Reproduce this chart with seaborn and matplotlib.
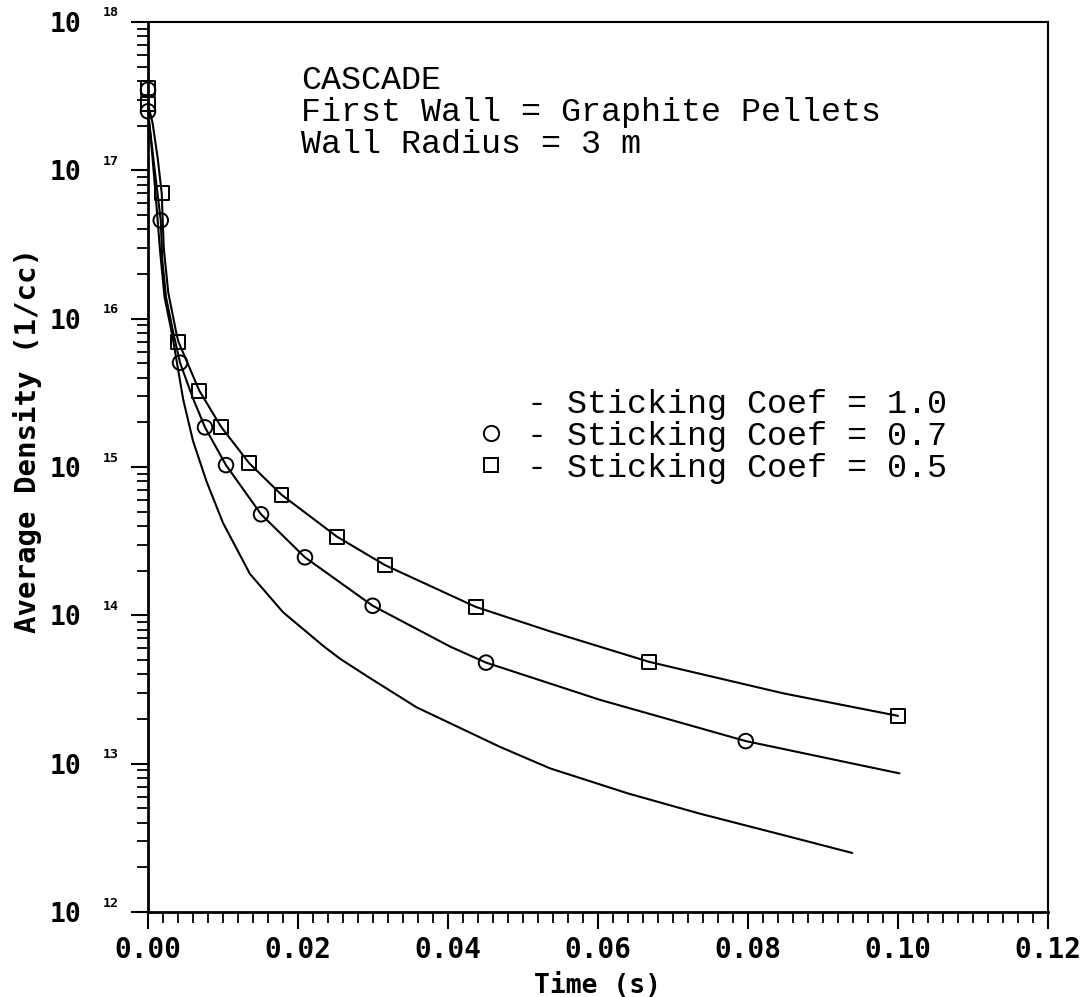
import matplotlib
matplotlib.use("Agg")
import matplotlib.pyplot as plt
import seaborn as sns
import pandas as pd
from matplotlib.lines import Line2D
from matplotlib.ticker import MultipleLocator, FixedLocator, FixedFormatter, LogLocator, NullFormatter, FormatStrFormatter

# ---------------- data ----------------
# Sticking Coef = 1.0 (line only)
time_c10 = [0.0, 0.0005, 0.0010, 0.0016, 0.0022, 0.0032, 0.0047, 0.0060, 0.0078, 0.0100,
            0.0136, 0.0180, 0.0234, 0.0256, 0.0293, 0.0358, 0.0469, 0.0536, 0.0640,
            0.0736, 0.0847, 0.0939]
dens_c10 = [2.5e17, 1.4e17, 7.0e16, 2.9e16, 1.4e16, 7.9e15, 2.84e15, 1.5e15, 8.0e14, 4.2e14,
            1.9e14, 1.05e14, 6.2e13, 5.1e13, 3.86e13, 2.4e13, 1.3e13, 9.3e12, 6.3e12,
            4.6e12, 3.3e12, 2.5e12]

# Sticking Coef = 0.7 (curve)
time_c07 = [0.0, 0.0008, 0.0017, 0.0019, 0.0024, 0.0034, 0.00427, 0.0060, 0.0076, 0.0104,
            0.01507, 0.02093, 0.02996, 0.0403, 0.04507, 0.0603, 0.0797, 0.1002]
dens_c07 = [2.5e17, 1.1e17, 4.6e16, 2.5e16, 1.4e16, 7.9e15, 5.05e15, 2.9e15, 1.85e15, 1.03e15,
            4.8e14, 2.46e14, 1.16e14, 6.15e13, 4.8e13, 2.69e13, 1.42e13, 8.6e12]

# Sticking Coef = 0.5 (curve)
time_c05 = [0.0, 0.0006, 0.0013, 0.00183, 0.0021, 0.0027, 0.0038, 0.00405, 0.00684, 0.00973,
            0.0135, 0.0178, 0.0252, 0.0316, 0.0437, 0.0536, 0.0668, 0.0847, 0.1000]
dens_c05 = [2.8e17, 2.1e17, 1.2e17, 7.0e16, 3.0e16, 1.5e16, 7.9e15, 7.0e15, 3.27e15, 1.87e15,
            1.06e15, 6.5e14, 3.39e14, 2.18e14, 1.14e14, 7.8e13, 4.86e13, 2.98e13, 2.1e13]

# Markers
mark_t07 = [0.0, 0.0, 0.0017, 0.00427, 0.0076, 0.0104, 0.01507, 0.02093, 0.02996, 0.04507, 0.0797]
mark_n07 = [3.5e17, 2.5e17, 4.6e16, 5.05e15, 1.85e15, 1.03e15, 4.8e14, 2.46e14, 1.16e14, 4.8e13, 1.42e13]
mark_t05 = [0.0, 0.0, 0.00183, 0.00405, 0.00684, 0.00973, 0.0135, 0.0178, 0.0252, 0.0316,
            0.0437, 0.0668, 0.1000]
mark_n05 = [3.6e17, 2.8e17, 7.0e16, 7.0e15, 3.27e15, 1.87e15, 1.06e15, 6.5e14, 3.39e14, 2.18e14,
            1.14e14, 4.86e13, 2.1e13]

legend_labels = ["- Sticking Coef = 1.0", "- Sticking Coef = 0.7", "- Sticking Coef = 0.5"]
info_lines = ["CASCADE", "First Wall = Graphite Pellets", "Wall Radius = 3 m"]
x_ticks = [0.00, 0.02, 0.04, 0.06, 0.08, 0.10, 0.12]
y_exponents = [12, 13, 14, 15, 16, 17, 18]

# ---------------- style ----------------
sns.set_theme(style="white")
plt.rcParams["font.family"] = ["DejaVu Sans Mono", "DejaVu Sans"]
plt.rcParams["text.color"] = "black"
plt.rcParams["legend.labelcolor"] = "black"

W, H = 1092, 997
fig = plt.figure(figsize=(W / 100, H / 100), dpi=100)
L, R, T, B = 148, 1048, 22, 912
ax = fig.add_axes([L / W, 1 - B / H, (R - L) / W, (B - T) / H])
ax.set_facecolor("white")
ax.set_yscale("log")

df_lines = pd.concat([
    pd.DataFrame({"t": time_c10, "n": dens_c10, "coef": "1.0"}),
    pd.DataFrame({"t": time_c07, "n": dens_c07, "coef": "0.7"}),
    pd.DataFrame({"t": time_c05, "n": dens_c05, "coef": "0.5"}),
])
for coef, sub in df_lines.groupby("coef", sort=False):
    sns.lineplot(data=sub, x="t", y="n", ax=ax, color="black", lw=1.5,
                 sort=False, estimator=None, legend=False)

sns.scatterplot(x=mark_t07, y=mark_n07, ax=ax, marker="o", s=110, facecolor="none",
                edgecolor="black", linewidth=1.4, clip_on=False, zorder=4, legend=False)
sns.scatterplot(x=mark_t05, y=mark_n05, ax=ax, marker="s", s=100, facecolor="none",
                edgecolor="black", linewidth=1.4, clip_on=False, zorder=4, legend=False)

ax.set_xlim(0, 0.12)
ax.set_ylim(1e12, 1e18)

# spines
for side, lw in [("left", 2.0), ("bottom", 2.0), ("top", 1.5), ("right", 1.5)]:
    ax.spines[side].set_visible(True)
    ax.spines[side].set_color("black")
    ax.spines[side].set_linewidth(lw)

# x ticks
ax.xaxis.set_major_locator(FixedLocator(x_ticks))
ax.xaxis.set_minor_locator(MultipleLocator(0.002))
ax.xaxis.set_major_formatter(FormatStrFormatter("%.2f"))
# y ticks
ax.yaxis.set_major_locator(FixedLocator([10.0 ** e for e in y_exponents]))
ax.yaxis.set_major_formatter(FixedFormatter(["10"] * len(y_exponents)))
ax.yaxis.set_minor_locator(LogLocator(base=10, subs=range(2, 10)))
ax.yaxis.set_minor_formatter(NullFormatter())

ax.tick_params(which="both", direction="out", color="black", top=False, right=False,
               bottom=True, left=True)
ax.tick_params(axis="x", which="major", length=12, width=1.5, pad=5,
               labelsize=20, labelcolor="black")
ax.tick_params(axis="x", which="minor", length=8, width=1.3)
ax.tick_params(axis="y", which="major", length=12, width=1.5, pad=36,
               labelsize=19, labelcolor="black")
ax.tick_params(axis="y", which="minor", length=8, width=1.3)
for lab in ax.get_xticklabels() + ax.get_yticklabels():
    lab.set_fontweight("bold")

# exponents of the y tick labels
for e in y_exponents:
    ax.annotate(str(e), xy=(0, 10.0 ** e), xycoords=("axes fraction", "data"),
                xytext=(-37, 9), textcoords="offset pixels", ha="center", va="center",
                fontsize=9.5, fontweight="bold", color="black", annotation_clip=False)

ax.set_xlabel("Time (s)", fontsize=19, fontweight="bold", color="black")
ax.set_ylabel("Average Density (1/cc)", fontsize=21, fontweight="bold", color="black")
ax.xaxis.set_label_coords(0.5, -0.068)
ax.yaxis.set_label_coords(-0.118, 0.53)

# info text
mono = ["Liberation Mono", "DejaVu Sans Mono"]
for i, line in enumerate(info_lines):
    ax.text(0.170, 0.9247 - i * 0.036, line, transform=ax.transAxes, family=mono,
            fontsize=24, color="black", va="baseline", ha="left")

# legend
handles = [
    Line2D([], [], linestyle="none", marker=None, color="black"),
    Line2D([], [], linestyle="none", marker="o", markersize=11, markerfacecolor="none",
           markeredgecolor="black", markeredgewidth=1.4),
    Line2D([], [], linestyle="none", marker="s", markersize=10.5, markerfacecolor="none",
           markeredgecolor="black", markeredgewidth=1.4),
]
leg = ax.legend(handles, legend_labels, loc="upper left",
                bbox_to_anchor=(474 / W, 1 - 389 / H), bbox_transform=fig.transFigure,
                frameon=False, prop={"family": mono, "size": 24},
                handlelength=1.0, handletextpad=0.6, labelspacing=0.03,
                borderpad=0, borderaxespad=0)
for txt in leg.get_texts():
    txt.set_color("black")

fig.savefig("out.png", dpi=100, facecolor="white")
